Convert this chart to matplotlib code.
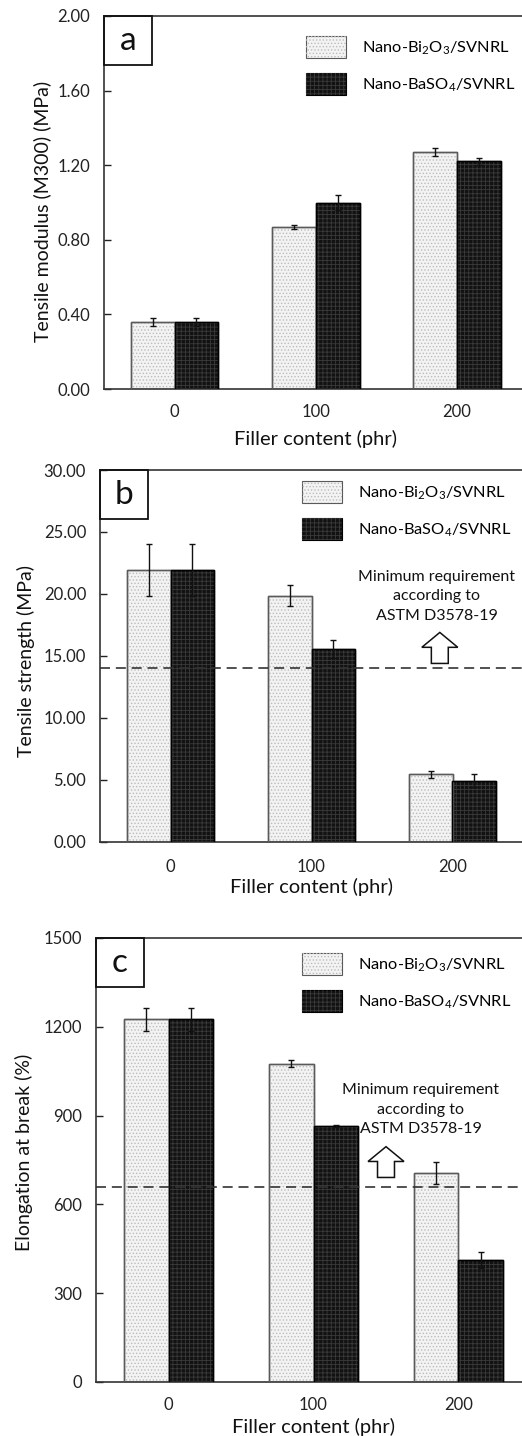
import matplotlib
matplotlib.use("Agg")
import matplotlib.pyplot as plt
import numpy as np
from matplotlib.patches import Patch, Rectangle, FancyArrow

plt.rcParams['font.family'] = ['Lato', 'DejaVu Sans']
plt.rcParams['mathtext.fontset'] = 'custom'
plt.rcParams['mathtext.rm'] = 'Lato'
plt.rcParams['mathtext.default'] = 'regular'
plt.rcParams['hatch.linewidth'] = 0.6

# data
filler = ['0', '100', '200']

modulus_bi = [0.36, 0.87, 1.27]
modulus_bi_err = [0.02, 0.01, 0.02]
modulus_ba = [0.36, 1.00, 1.22]
modulus_ba_err = [0.02, 0.04, 0.02]

strength_bi = [21.95, 19.85, 5.45]
strength_bi_err = [2.1, 0.85, 0.3]
strength_ba = [21.95, 15.55, 4.95]
strength_ba_err = [2.1, 0.75, 0.5]

elong_bi = [1225, 1075, 705]
elong_bi_err = [40, 12, 37]
elong_ba = [1225, 866, 412]
elong_ba_err = [40, 3, 27]

ASTM_STRENGTH = 14.0
ASTM_ELONG = 660

LABEL_BI = 'Nano-Bi$_2$O$_3$/SVNRL'
LABEL_BA = 'Nano-BaSO$_4$/SVNRL'
XLABEL = 'Filler content (phr)'
NOTE = 'Minimum requirement\naccording to\nASTM D3578-19'

W, H = 522, 1436
BAR_W = 0.31

LIGHT = dict(face='#f3f3f3', edge='#5a5a5a', hatch='.....', hcol='#bcbcbc')
DARK = dict(face='#121212', edge='#000000', hatch='++++', hcol='#3a3a3a')

fig = plt.figure(figsize=(W / 100, H / 100), dpi=100)


def px_axes(left, top, right, bottom):
    return fig.add_axes([left / W, 1 - bottom / H, (right - left) / W, (bottom - top) / H])


def bars(ax, xs, vals, errs, st):
    ax.bar(xs, vals, BAR_W, color=st['face'], edgecolor=st['edge'], linewidth=1.0, zorder=2)
    ax.bar(xs, vals, BAR_W, fill=False, hatch=st['hatch'], edgecolor=st['hcol'],
           linewidth=0, zorder=2.5)
    ax.bar(xs, vals, BAR_W, fill=False, edgecolor=st['edge'], linewidth=1.0, zorder=2.6)
    ax.errorbar(xs, vals, yerr=errs, fmt='none', ecolor='#111111', elinewidth=1.0,
                capsize=2.5, capthick=1.0, zorder=3)


def legend_handles(st):
    return (Patch(facecolor=st['face'], edgecolor=st['edge'], linewidth=0.8),
            Patch(fill=False, hatch=st['hatch'], edgecolor=st['hcol'], linewidth=0))


def panel(ax, letter, bi, bi_err, ba, ba_err, ylim, yticks, fmt, ylabel,
          leg_xy, ylab_xy, xlabpad, xpad):
    x = np.arange(len(filler))
    bars(ax, x - BAR_W / 2, bi, bi_err, LIGHT)
    bars(ax, x + BAR_W / 2, ba, ba_err, DARK)

    ax.set_xlim(-0.5, 2.5)
    ax.set_ylim(*ylim)
    ax.set_yticks(yticks)
    ax.set_yticklabels([fmt.format(v) for v in yticks])
    ax.set_xticks(x)
    ax.set_xticklabels(filler)
    ax.tick_params(axis='y', direction='in', length=5, width=1, labelsize=12, pad=10,
                   colors='#222222')
    ax.tick_params(axis='x', length=0, labelsize=12, pad=xpad, colors='#222222')
    for s in ['top', 'left', 'bottom']:
        ax.spines[s].set_linewidth(1.2)
        ax.spines[s].set_color('#333333')
    ax.spines['right'].set_visible(False)

    ax.set_xlabel(XLABEL, fontsize=14.5, labelpad=xlabpad, color='#111111')
    ax.set_ylabel(ylabel, fontsize=14, color='#111111')
    ax.yaxis.set_label_coords(*ylab_xy)

    # panel letter box
    bw = 48 / (ax.get_position().width * W)
    bh = 49 / (ax.get_position().height * H)
    ax.add_patch(Rectangle((0, 1 - bh), bw, bh, transform=ax.transAxes, fill=False,
                           edgecolor='#111111', linewidth=1.3, zorder=5, clip_on=False))
    ax.text(bw / 2, 1 - bh / 2, letter, transform=ax.transAxes, ha='center', va='center',
            fontsize=24, color='#111111', zorder=6)

    ax.legend([legend_handles(LIGHT), legend_handles(DARK)], [LABEL_BI, LABEL_BA],
              loc='upper left', bbox_to_anchor=(leg_xy[0] / W, 1 - leg_xy[1] / H),
              bbox_transform=fig.transFigure, frameon=False, fontsize=11.8,
              handlelength=2.45, handleheight=1.7, handletextpad=0.95,
              labelspacing=0.92, borderpad=0, borderaxespad=0)


def note(ax, astm, tx, ty, ax_x, ay0, ay1, head_w, shaft_w, head_l):
    ax.axhline(astm, color='#333333', linewidth=1.2, dashes=(6, 3.5), zorder=4)
    ax.text(tx, ty, NOTE, ha='center', va='center', fontsize=11.5, linespacing=1.5,
            color='#111111', zorder=5)
    ax.add_patch(FancyArrow(ax_x, ay0, 0, ay1 - ay0, width=shaft_w, head_width=head_w,
                            head_length=head_l, length_includes_head=True,
                            facecolor='white', edgecolor='#111111', linewidth=1.1, zorder=5))


# (a) tensile modulus
ax_a = px_axes(104, 16, 527.5, 389)
panel(ax_a, 'a', modulus_bi, modulus_bi_err, modulus_ba, modulus_ba_err,
      (0, 2.0), np.arange(0, 2.01, 0.4), '{:.2f}', 'Tensile modulus (M300) (MPa)',
      (306, 36), (-0.125, 0.475), 7, 11)

# (b) tensile strength
ax_b = px_axes(100, 470, 523, 842)
panel(ax_b, 'b', strength_bi, strength_bi_err, strength_ba, strength_ba_err,
      (0, 30), np.arange(0, 30.1, 5), '{:.2f}', 'Tensile strength (MPa)',
      (302, 481), (-0.154, 0.487), 2, 12)
note(ax_b, ASTM_STRENGTH, 1.89, 19.8, 1.91, 14.4, 16.9, 0.255, 0.12, 1.2)

# (c) elongation at break
ax_c = px_axes(96, 938, 531, 1382)
panel(ax_c, 'c', elong_bi, elong_bi_err, elong_ba, elong_ba_err,
      (0, 1500), np.arange(0, 1501, 300), '{:.0f}', 'Elongation at break (%)',
      (302, 953), (-0.145, 0.518), 3, 11)
note(ax_c, ASTM_ELONG, 1.74, 920, 1.50, 691, 795, 0.248, 0.117, 50)

fig.savefig('out.png', dpi=100)
